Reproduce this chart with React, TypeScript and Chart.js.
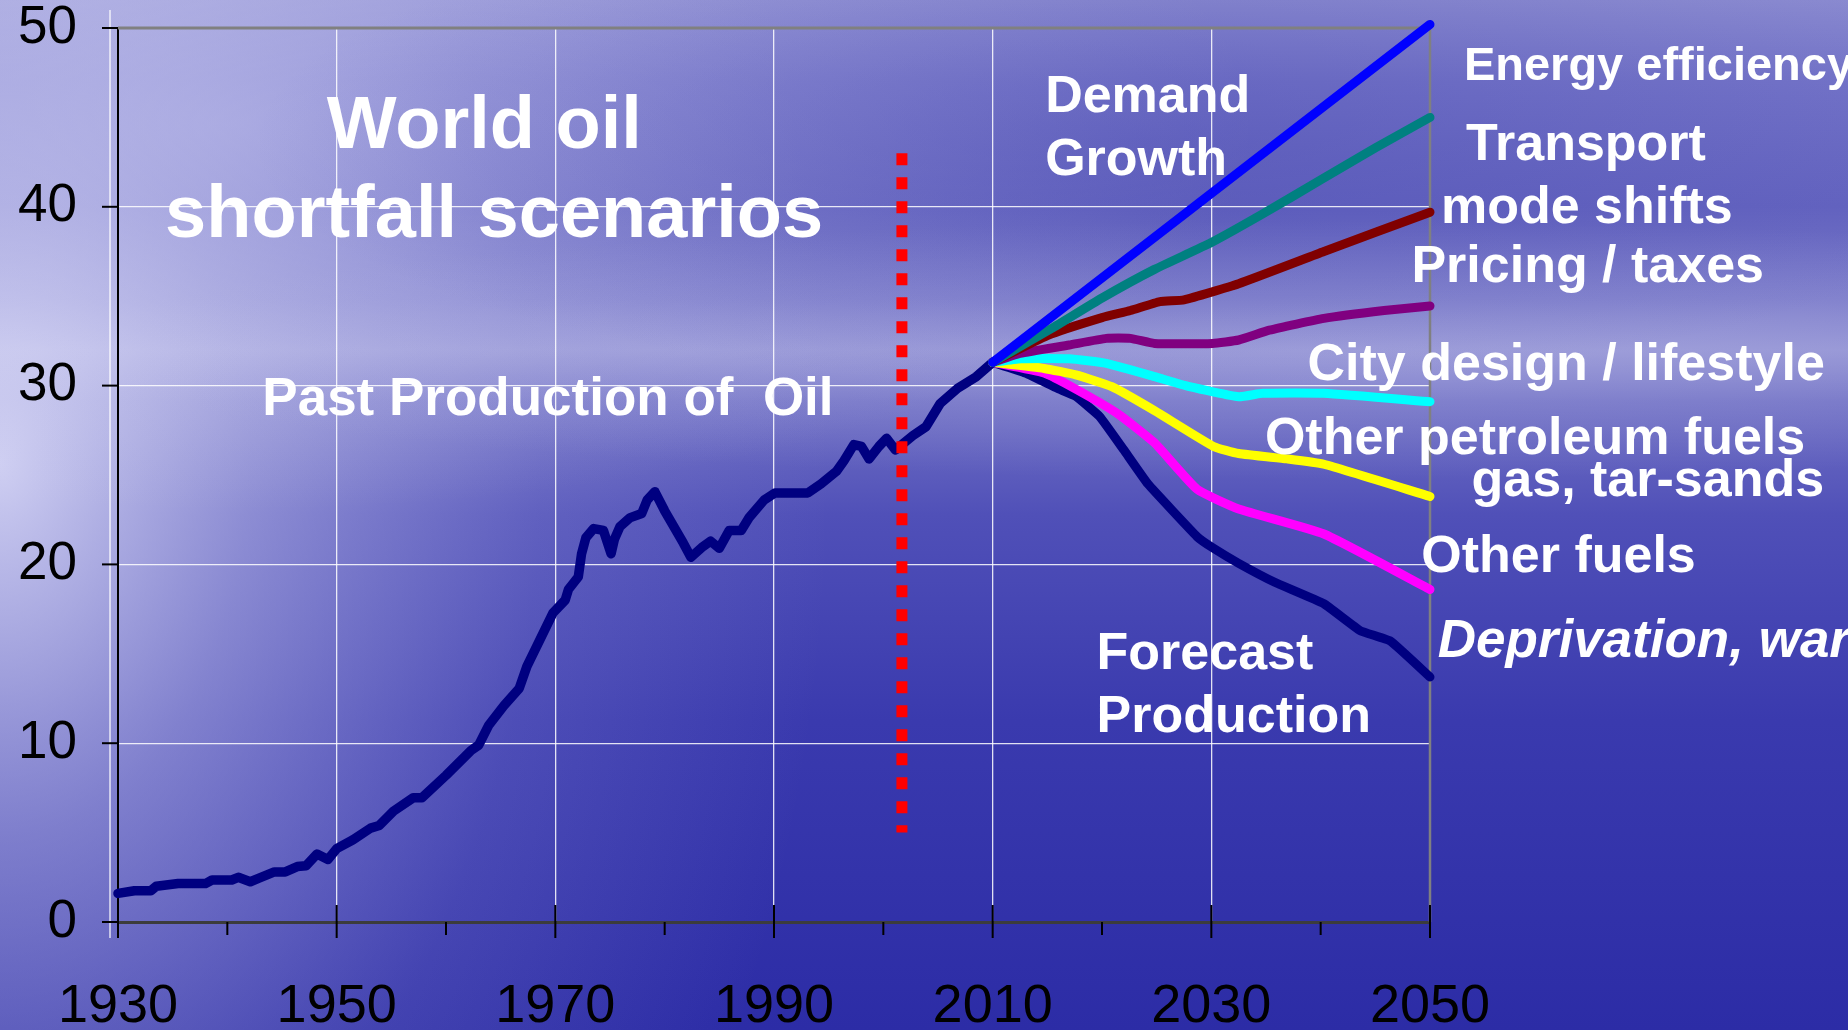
import { useEffect, useRef } from "react";
import { Chart, registerables } from "chart.js";

Chart.register(...registerables);

// ---------- axis ----------
const xMin = 1930;
const xMax = 2050;
const xStep = 10;
const xLabelStep = 20;
const yMin = 0;
const yMax = 50;
const yStep = 10;

// ---------- past production of oil ----------
const histYears = [
  1930, 1931.5, 1933, 1933.5, 1935.5, 1938, 1938.6, 1940.4, 1941, 1942.1, 1942.9, 1944.3, 1945.3,
  1946.4, 1947.2, 1948.2, 1949.2, 1950, 1951.5, 1953.1, 1953.9, 1955.2, 1957, 1957.8, 1960, 1962.3,
  1963, 1963.9, 1965.3, 1966.7, 1967.4, 1969.8, 1970.9, 1971.2, 1972.1, 1972.4, 1972.8, 1973.5,
  1974.4, 1975.1, 1975.4, 1975.9, 1976.8, 1977.9, 1978.4, 1979.1, 1980, 1981.7, 1982.4, 1983.5,
  1984.2, 1985, 1985.9, 1987, 1987.7, 1989.1, 1990.1, 1993.1, 1994.3, 1995.7, 1996.4, 1997.3, 1998,
  1998.7, 1999.6, 2000.3, 2001.1, 2002.7, 2003.9, 2005.2, 2006.8, 2008.5, 2010,
];
const histValues = [
  1.6, 1.75, 1.75, 2.0, 2.15, 2.15, 2.35, 2.35, 2.5, 2.25, 2.45, 2.8, 2.8,
  3.1, 3.15, 3.8, 3.5, 4.1, 4.6, 5.25, 5.4, 6.2, 6.95, 6.95, 8.2, 9.6,
  9.9, 11.0, 12.1, 13.07, 14.3, 17.3, 18.0, 18.6, 19.3, 20.6, 21.5, 22.0,
  21.9, 20.6, 21.4, 22.1, 22.6, 22.85, 23.6, 24.07, 23.0, 21.2, 20.4, 21.0,
  21.3, 20.9, 21.9, 21.9, 22.6, 23.6, 24.0, 24.0, 24.5, 25.2, 25.8, 26.7, 26.6,
  25.9, 26.6, 27.05, 26.4, 27.2, 27.7, 29.0, 29.85, 30.5, 31.3,
];

// ---------- scenarios 2010-2050 ----------
const demandYears = [2010, 2050];
const demandValues = [31.3, 50.2];

const transportYears = [2010, 2015.4, 2020, 2024.8, 2030, 2034.7, 2040, 2045, 2050];
const transportValues = [31.3, 33.2, 34.9, 36.5, 38.0, 39.6, 41.5, 43.3, 45.0];

const pricingYears = [2010, 2015, 2020, 2022.6, 2025.3, 2027.5, 2032.5, 2040.3, 2050];
const pricingValues = [31.3, 32.8, 33.8, 34.2, 34.7, 34.8, 35.7, 37.5, 39.7];

const cityYears = [2010, 2012.5, 2017, 2020.4, 2022.6, 2024.8, 2030.1, 2032.5, 2035.3, 2040.3, 2045.8, 2050];
const cityValues = [31.3, 31.8, 32.27, 32.64, 32.64, 32.36, 32.36, 32.55, 33.1, 33.76, 34.2, 34.45];

const petroleumYears = [2010, 2012.6, 2017, 2020.4, 2024.8, 2028, 2032.5, 2034.7, 2040.3, 2050];
const petroleumValues = [31.3, 31.5, 31.5, 31.24, 30.5, 29.94, 29.38, 29.57, 29.57, 29.1];

const gasYears = [2010, 2014.7, 2017.6, 2020.9, 2024.8, 2030.2, 2032.5, 2036.9, 2040.3, 2050];
const gasValues = [31.3, 30.96, 30.6, 29.94, 28.6, 26.6, 26.2, 25.9, 25.6, 23.8];

const otherFuelYears = [2010, 2014.7, 2017.6, 2021.5, 2024.8, 2028.7, 2032.5, 2040.3, 2050];
const otherFuelValues = [31.3, 30.7, 29.8, 28.4, 26.8, 24.2, 23.1, 21.7, 18.6];

const forecastYears = [2010, 2013, 2015.9, 2017.6, 2019.8, 2022, 2024.2, 2028.7, 2030.2, 2032.5, 2035.8, 2040.3, 2043.6, 2046.4, 2050];
const forecastValues = [31.3, 30.7, 29.85, 29.4, 28.26, 26.4, 24.5, 21.55, 20.9, 20.06, 19.0, 17.8, 16.3, 15.7, 13.7];

// ---------- "now" marker (red dotted line) ----------
const markerYear = 2001.7;
const markerTop = 43;
const markerBottom = 5;

// ---------- annotation texts ----------
const noteTexts = [
  "World oil",
  "shortfall scenarios",
  "Past Production of  Oil",
  "Demand",
  "Growth",
  "Energy efficiency",
  "Transport",
  "mode shifts",
  "Pricing / taxes",
  "City design / lifestyle",
  "Other petroleum fuels",
  "gas, tar-sands",
  "Other fuels",
  "Deprivation, war",
  "Forecast",
  "Production",
];
// placement (data coordinates of the text anchor) and style
const noteLayout = [
  { x: 1963.5, y: 43.3, size: 74, align: "center", italic: false },
  { x: 1964.4, y: 38.3, size: 74, align: "center", italic: false },
  { x: 1943.2, y: 28.36, size: 53, align: "left", italic: false },
  { x: 2014.8, y: 45.3, size: 52, align: "left", italic: false },
  { x: 2014.8, y: 41.8, size: 52, align: "left", italic: false },
  { x: 2053.1, y: 47.1, size: 47, align: "left", italic: false },
  { x: 2053.3, y: 42.6, size: 52, align: "left", italic: false },
  { x: 2051.0, y: 39.1, size: 52, align: "left", italic: false },
  { x: 2048.3, y: 35.8, size: 52, align: "left", italic: false },
  { x: 2038.8, y: 30.3, size: 52, align: "left", italic: false },
  { x: 2034.9, y: 26.2, size: 52, align: "left", italic: false },
  { x: 2053.8, y: 23.8, size: 52, align: "left", italic: false },
  { x: 2049.2, y: 19.6, size: 52, align: "left", italic: false },
  { x: 2050.7, y: 14.8, size: 53, align: "left", italic: true },
  { x: 2019.5, y: 14.15, size: 52, align: "left", italic: false },
  { x: 2019.5, y: 10.6, size: 52, align: "left", italic: false },
];

const FONT = '"Liberation Sans", Arial, Helvetica, sans-serif';

const toPoints = (xs: number[], ys: number[]) => xs.map((x, i) => ({ x, y: ys[i] }));

const backgroundPlugin = {
  id: "seaSky",
  beforeDraw(chart: any) {
    const { ctx, width: w, height: h } = chart;
    ctx.save();
    const g = ctx.createLinearGradient(0, 0, 0, h);
    g.addColorStop(0, "#8a8ad0");
    g.addColorStop(0.08, "#7474c8");
    g.addColorStop(0.2, "#6464c0");
    g.addColorStop(0.29, "#7878c8");
    g.addColorStop(0.34, "#9090d2");
    g.addColorStop(0.39, "#7070c4");
    g.addColorStop(0.5, "#5050b8");
    g.addColorStop(0.7, "#3a3aae");
    g.addColorStop(1, "#2c2ca6");
    ctx.fillStyle = g;
    ctx.fillRect(0, 0, w, h);

    // soft light glow on the left side
    ctx.save();
    ctx.translate(0, h * 0.45);
    ctx.scale(1, 1.5);
    const r = ctx.createRadialGradient(0, 0, 0, 0, 0, w * 0.45);
    r.addColorStop(0, "rgba(235,235,255,0.8)");
    r.addColorStop(0.3, "rgba(215,215,245,0.45)");
    r.addColorStop(0.65, "rgba(190,190,235,0.15)");
    r.addColorStop(1, "rgba(180,180,230,0)");
    ctx.fillStyle = r;
    ctx.fillRect(0, -h, w, 2 * h);
    ctx.restore();

    // top-left cloud brightness
    ctx.save();
    ctx.translate(w * 0.12, h * 0.12);
    ctx.scale(1.6, 0.6);
    const c = ctx.createRadialGradient(0, 0, 0, 0, 0, w * 0.35);
    c.addColorStop(0, "rgba(200,200,240,0.45)");
    c.addColorStop(1, "rgba(200,200,240,0)");
    ctx.fillStyle = c;
    ctx.fillRect(-w, -h, 3 * w, 3 * h);
    ctx.restore();

    // light horizon haze on the right
    ctx.save();
    ctx.translate(w * 0.72, h * 0.34);
    ctx.scale(3.5, 0.35);
    const hz = ctx.createRadialGradient(0, 0, 0, 0, 0, w * 0.2);
    hz.addColorStop(0, "rgba(190,190,235,0.35)");
    hz.addColorStop(1, "rgba(190,190,235,0)");
    ctx.fillStyle = hz;
    ctx.fillRect(-w, -h * 4, 3 * w, h * 8);
    ctx.restore();

    // darker band in upper right sky
    ctx.save();
    ctx.translate(w * 0.62, h * 0.14);
    ctx.scale(2.2, 0.6);
    const d = ctx.createRadialGradient(0, 0, 0, 0, 0, w * 0.22);
    d.addColorStop(0, "rgba(70,70,175,0.35)");
    d.addColorStop(1, "rgba(70,70,175,0)");
    ctx.fillStyle = d;
    ctx.fillRect(-w, -h * 2, 3 * w, h * 4);
    ctx.restore();
    ctx.restore();
  },
};

const framePlugin = {
  id: "frame",
  beforeDatasetsDraw(chart: any) {
    const { ctx, chartArea: a, scales } = chart;
    const xs = scales.x;
    const ys = scales.y;
    ctx.save();
    // faint secondary white axis
    ctx.strokeStyle = "rgba(255,255,255,0.8)";
    ctx.lineWidth = 1.5;
    ctx.beginPath();
    ctx.moveTo(a.left - 8, a.top - 18);
    ctx.lineTo(a.left - 8, a.bottom + 16);
    ctx.stroke();
    // top and right borders
    ctx.strokeStyle = "#808080";
    ctx.lineWidth = 3;
    ctx.beginPath();
    ctx.moveTo(a.left, a.top);
    ctx.lineTo(a.right + 1, a.top);
    ctx.stroke();
    ctx.lineWidth = 2.5;
    ctx.beginPath();
    ctx.moveTo(a.right, a.top);
    ctx.lineTo(a.right, a.bottom);
    ctx.stroke();
    // y tick marks
    ctx.strokeStyle = "#000";
    ctx.lineWidth = 2;
    ys.ticks.forEach((t: any) => {
      const y = ys.getPixelForValue(t.value);
      ctx.beginPath();
      ctx.moveTo(a.left - 16, y);
      ctx.lineTo(a.left, y);
      ctx.stroke();
    });
    // x tick marks (major crossing the axis, minor below it)
    xs.ticks.forEach((t: any) => {
      const x = xs.getPixelForValue(t.value);
      const major = (t.value - xMin) % xLabelStep === 0;
      ctx.beginPath();
      ctx.moveTo(x, major ? a.bottom - 17 : a.bottom);
      ctx.lineTo(x, major ? a.bottom + 16 : a.bottom + 13);
      ctx.stroke();
    });
    ctx.restore();
  },
  afterDraw(chart: any) {
    const { ctx, scales } = chart;
    ctx.save();
    ctx.fillStyle = "#ffffff";
    ctx.textBaseline = "alphabetic";
    noteTexts.forEach((text, i) => {
      const n = noteLayout[i];
      ctx.font = `${n.italic ? "italic " : ""}bold ${n.size}px ${FONT}`;
      ctx.textAlign = n.align;
      ctx.fillText(text, scales.x.getPixelForValue(n.x), scales.y.getPixelForValue(n.y));
    });
    ctx.restore();
  },
};

export default function App() {
  const ref = useRef<HTMLCanvasElement>(null);

  useEffect(() => {
    const canvas = ref.current;
    if (!canvas) return;
    const line = (label: string, xs: number[], ys: number[], color: string, width: number, tension = 0) => ({
      label,
      data: toPoints(xs, ys),
      borderColor: color,
      backgroundColor: color,
      borderWidth: width,
      tension,
      clip: false as any,
      borderCapStyle: "round",
      borderJoinStyle: "round",
      pointRadius: 0,
      fill: false,
    });

    const chart = new Chart(canvas, {
      type: "line",
      data: {
        datasets: [
          {
            label: "Now",
            data: [
              { x: markerYear, y: markerTop },
              { x: markerYear, y: markerBottom },
            ],
            borderColor: "#ff0000",
            borderWidth: 11,
            borderDash: [12, 12],
            borderCapStyle: "butt",
            pointRadius: 0,
            fill: false,
          } as any,
          line("Demand growth", demandYears, demandValues, "#0000ff", 9),
          line("Energy efficiency", transportYears, transportValues, "#008080", 9, 0.15),
          line("Transport mode shifts", pricingYears, pricingValues, "#800000", 9, 0.15),
          line("Pricing / taxes", cityYears, cityValues, "#800080", 9, 0.15),
          line("City design / lifestyle", petroleumYears, petroleumValues, "#00ffff", 9, 0.15),
          line("Other petroleum fuels", gasYears, gasValues, "#ffff00", 9, 0.15),
          line("Other fuels", otherFuelYears, otherFuelValues, "#ff00ff", 9, 0.15),
          line("Forecast production", forecastYears, forecastValues, "#000080", 9, 0.1),
          line("Past production", histYears, histValues, "#000080", 9.5),
        ] as any,
      },
      options: {
        animation: false,
        responsive: true,
        maintainAspectRatio: false,
        layout: { padding: { top: 28, right: 418, left: 0, bottom: 0 } },
        plugins: { legend: { display: false }, tooltip: { enabled: false } },
        scales: {
          x: {
            type: "linear",
            min: xMin,
            max: xMax,
            afterFit: (s: any) => {
              s.height = 108;
              s.paddingLeft = 0;
              s.paddingRight = 0;
            },
            ticks: {
              stepSize: xStep,
              autoSkip: false,
              maxRotation: 0,
              minRotation: 0,
              padding: 53,
              color: "#000",
              font: { family: FONT, size: 54 },
              callback: (v: any) => ((Number(v) - xMin) % xLabelStep === 0 ? String(v) : ""),
            },
            grid: {
              drawTicks: false,
              lineWidth: 1.3,
              color: (c: any) => {
                const v = c.tick ? c.tick.value : 0;
                return v === xMin || v === xMax || (v - xMin) % xLabelStep !== 0
                  ? "rgba(0,0,0,0)"
                  : "rgba(255,255,255,0.85)";
              },
            },
            border: { display: true, color: "#3c3c3c", width: 3 },
          },
          y: {
            type: "linear",
            min: yMin,
            max: yMax,
            afterFit: (s: any) => {
              s.width = 118;
              s.paddingTop = 0;
              s.paddingBottom = 0;
            },
            ticks: {
              stepSize: yStep,
              padding: 41,
              color: "#000",
              font: { family: FONT, size: 53 },
            },
            grid: {
              drawTicks: false,
              lineWidth: 1.3,
              color: (c: any) => {
                const v = c.tick ? c.tick.value : 0;
                return v === yMin || v === yMax ? "rgba(0,0,0,0)" : "rgba(255,255,255,0.85)";
              },
            },
            border: { display: true, color: "#000", width: 2 },
          },
        },
      } as any,
      plugins: [backgroundPlugin, framePlugin] as any,
    });
    return () => chart.destroy();
  }, []);

  return (
    <div style={{ position: "fixed", left: 0, top: 0, width: "100vw", height: "100vh", overflow: "hidden" }}>
      <canvas ref={ref} />
    </div>
  );
}
